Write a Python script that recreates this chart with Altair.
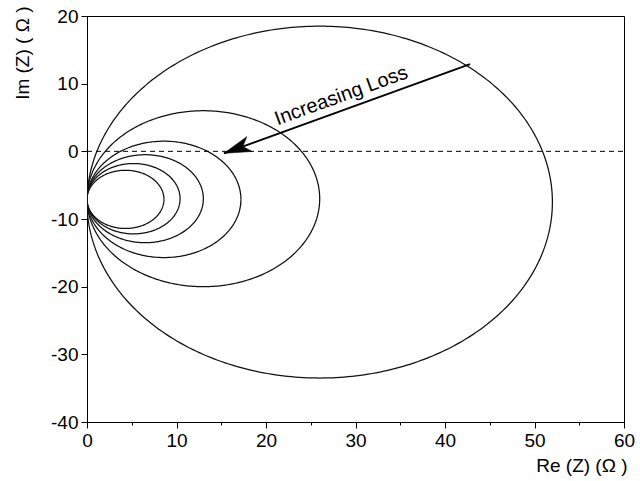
import numpy as np
import pandas as pd
import altair as alt

# Impedance circles: radius and centre height (ohms); each circle starts at Re = 0
radii = [26.0, 13.0, 8.6, 6.5, 5.2, 4.3]
center_im = [-7.5, -7.0, -7.1, -7.0, -7.0, -7.1]

# Arrow annotation (data coordinates)
arrow_start = [42.8, 12.9]
arrow_tip = [15.3, -0.3]
label_xy = [28.4, 8.2]
label_text = "Increasing Loss"

x_values = list(range(0, 61, 5))
y_values = list(range(-40, 21, 5))

FONT = "Liberation Sans"

rows = []
for i, (r, cy) in enumerate(zip(radii, center_im)):
    for k, t in enumerate(np.linspace(0, 2 * np.pi, 361)):
        rows.append({"circle": i, "k": k,
                     "re": r + r * np.cos(t),
                     "im": cy + r * np.sin(t)})
circles_df = pd.DataFrame(rows)

xscale = alt.Scale(domain=[0, 60], nice=False, zero=False)
yscale = alt.Scale(domain=[-40, 20], nice=False, zero=False)

major_tick = {"condition": {"test": "datum.value % 10 === 0", "value": 6}, "value": 3}
# plain hyphen for negatives, labels only on the major ticks
label_expr = "datum.value % 10 === 0 ? '' + datum.value : ''"

x_axis = alt.Axis(values=x_values, labelExpr=label_expr,
                  tickSize=major_tick, grid=False, labelFlush=False, labelOverlap=False,
                  title="Re (Z) (Ω )", titleAnchor="end", titleAlign="right",
                  titleX=540, titleY=43, titleBaseline="middle",
                  labelPadding=3, domainColor="black", tickColor="black")
y_axis = alt.Axis(values=y_values, labelExpr=label_expr,
                  tickSize=major_tick, grid=False, labelFlush=False, labelOverlap=False,
                  title="Im (Z) ( Ω )", titleAngle=-90, titleAlign="right",
                  titleX=-65, titleY=-10, titleBaseline="middle",
                  labelPadding=3, domainColor="black", tickColor="black")

circles = alt.Chart(circles_df).mark_line(color="#111", strokeWidth=1.25, clip=True).encode(
    x=alt.X("re:Q", scale=xscale, axis=x_axis),
    y=alt.Y("im:Q", scale=yscale, axis=y_axis),
    detail="circle:N",
    order="k:Q",
)

zero_df = pd.DataFrame({"x0": [0], "x1": [60], "y": [0]})
zero_line = alt.Chart(zero_df).mark_rule(color="black", strokeWidth=1, strokeDash=[5, 4]).encode(
    x=alt.X("x0:Q", scale=xscale), x2="x1:Q", y=alt.Y("y:Q", scale=yscale)
)

arrow_df = pd.DataFrame({"x0": [arrow_start[0]], "y0": [arrow_start[1]],
                         "x1": [arrow_tip[0]], "y1": [arrow_tip[1]]})
arrow_line = alt.Chart(arrow_df).mark_rule(color="black", strokeWidth=1.8).encode(
    x=alt.X("x0:Q", scale=xscale), y=alt.Y("y0:Q", scale=yscale), x2="x1:Q", y2="y1:Q"
)
arrow_head = alt.Chart(arrow_df).mark_point(
    shape="M0,0 L0.55,1.9 L0,1.4 L-0.55,1.9 Z", filled=True, fill="black",
    stroke="black", strokeWidth=0.5, opacity=1, size=820, angle=250
).encode(x=alt.X("x1:Q", scale=xscale), y=alt.Y("y1:Q", scale=yscale))

label_df = pd.DataFrame({"x": [label_xy[0]], "y": [label_xy[1]], "t": [label_text]})
label = alt.Chart(label_df).mark_text(
    angle=340, fontSize=20, font=FONT, color="black", align="center", baseline="middle"
).encode(x=alt.X("x:Q", scale=xscale), y=alt.Y("y:Q", scale=yscale), text="t:N")

chart = alt.layer(circles, zero_line, arrow_line, arrow_head, label).properties(
    width=537, height=406,
    autosize=alt.AutoSizeParams(type="none"),
    padding={"left": 87, "top": 16, "right": 16, "bottom": 59},
).configure_view(
    stroke="black", strokeWidth=1
).configure_axis(
    labelFont=FONT, labelFontSize=19, labelColor="black",
    titleFont=FONT, titleFontSize=19, titleFontWeight="normal", titleColor="black",
    domainWidth=1, tickWidth=1,
)

chart.save("out.html", embed_options={"renderer": "svg", "actions": False})
